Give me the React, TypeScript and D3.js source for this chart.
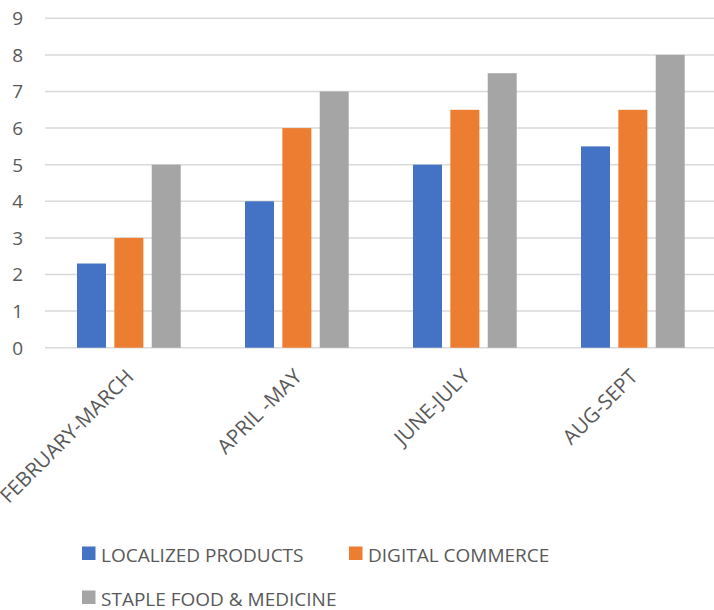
import React from 'react';
import * as d3 from 'd3';

const categories = ['FEBRUARY-MARCH', 'APRIL -MAY', 'JUNE-JULY', 'AUG-SEPT'];
const seriesNames = ['LOCALIZED PRODUCTS', 'DIGITAL COMMERCE', 'STAPLE FOOD & MEDICINE'];
const localized = [2.3, 4, 5, 5.5];
const digital = [3, 6, 6.5, 6.5];
const staple = [5, 7, 7.5, 8];
const yTicks = [0, 1, 2, 3, 4, 5, 6, 7, 8, 9];

const COLORS = ['#4472c4', '#ed7d31', '#a5a5a5'];
const TEXT = '#595959';
const GRID = '#d9d9d9';
const FONT = '"Open Sans", "Noto Sans", sans-serif';

const W = 714;
const H = 610;

export default function App() {
  const series = [localized, digital, staple];

  const x = d3.scaleBand<string>().domain(categories).range([45, 717]);
  const y = d3.scaleLinear().domain([0, 9]).range([347.7, 18.3]);
  const barW = 29;
  // three bars per group, 8px apart
  const inner = d3
    .scaleBand<number>()
    .domain([0, 1, 2])
    .range([-52, 52])
    .paddingInner(8 / 37);

  const legend = [
    { name: seriesNames[0], color: COLORS[0], x: 82, y: 562 },
    { name: seriesNames[1], color: COLORS[1], x: 349, y: 562 },
    { name: seriesNames[2], color: COLORS[2], x: 82, y: 606 },
  ];

  return (
    <div style={{ position: 'absolute', left: 0, top: 0 }}>
      <svg width={W} height={H} style={{ display: 'block', background: '#fff' }} fontFamily={FONT}>
        {yTicks.map((t) => (
          <line key={t} x1={45} x2={W} y1={y(t)} y2={y(t)} stroke={GRID} strokeWidth={1.5} />
        ))}
        {yTicks.map((t) => (
          <text key={t} x={23} y={y(t)} dy="0.36em" textAnchor="end" fontSize={19} fill={TEXT}>
            {t}
          </text>
        ))}
        {categories.map((c, i) => {
          const cx = (x(c) ?? 0) + x.bandwidth() / 2;
          return (
            <g key={c}>
              {series.map((s, j) => (
                <rect
                  key={j}
                  x={cx + (inner(j) ?? 0)}
                  width={barW}
                  y={y(s[i])}
                  height={y(0) - y(s[i])}
                  fill={COLORS[j]}
                />
              ))}
            </g>
          );
        })}
        {categories.map((c) => {
          const cx = (x(c) ?? 0) + x.bandwidth() / 2 + 6;
          return (
            <text
              key={c}
              transform={`translate(${cx},378) rotate(-45)`}
              textAnchor="end"
              fontSize={20.5}
              fill={TEXT}
            >
              {c}
            </text>
          );
        })}
        {legend.map((l) => (
          <g key={l.name}>
            <rect x={l.x} y={l.y - 15.5} width={13.5} height={13.5} fill={l.color} />
            <text x={l.x + 19} y={l.y} fontSize={19} fill={TEXT}>
              {l.name}
            </text>
          </g>
        ))}
      </svg>
    </div>
  );
}
